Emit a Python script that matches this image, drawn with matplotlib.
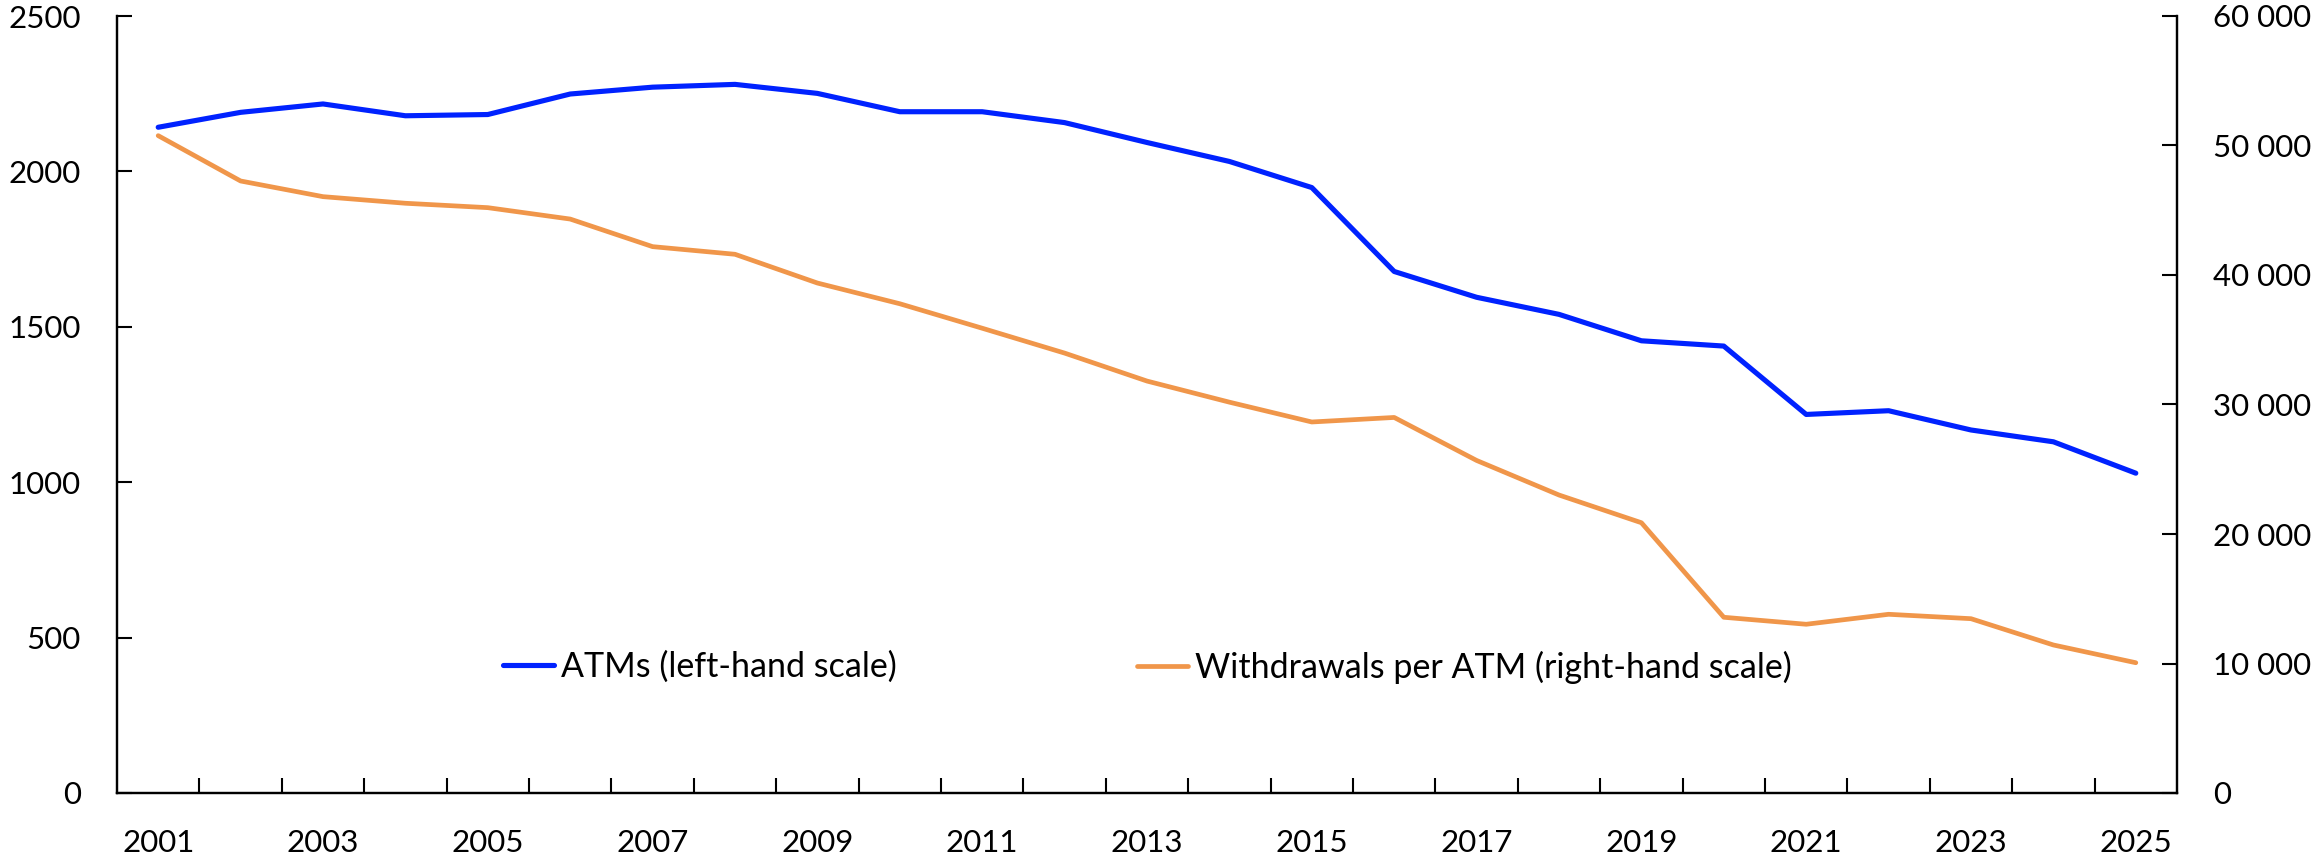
import matplotlib
matplotlib.use("Agg")
import matplotlib.pyplot as plt
from matplotlib.ticker import FuncFormatter, FixedLocator

plt.rcParams['font.family'] = ['Lato', 'DejaVu Sans']

years = list(range(2001, 2026))
atms = [2142, 2190, 2217, 2179, 2183, 2249, 2271, 2280, 2251, 2192, 2192, 2157,
        2093, 2032, 1948, 1678, 1595, 1540, 1455, 1438, 1218, 1230, 1168, 1130, 1029]
withdrawals = [50760, 47260, 46050, 45540, 45200, 44320, 42190, 41600, 39380, 37780,
               35890, 33970, 31810, 30180, 28650, 29000, 25680, 23010, 20870, 13570,
               13030, 13800, 13460, 11430, 10060]
label_atms = "ATMs (left-hand scale)"
label_wd = "Withdrawals per ATM (right-hand scale)"

blue = '#0022FF'
orange = '#F0964A'
fs = 22.5
fs_leg = 24.5

fig = plt.figure(figsize=(23.19, 8.65), dpi=100)
ax = fig.add_axes([117/2319, 72/865, 2060/2319, 777/865])
ax2 = ax.twinx()

x = list(range(len(years)))
l1, = ax.plot(x, atms, color=blue, lw=3.7, solid_capstyle='round', solid_joinstyle='round')
l2, = ax2.plot(x, withdrawals, color=orange, lw=3.4, solid_capstyle='round', solid_joinstyle='round')

ax.set_xlim(-0.5, len(years) - 0.5)
ax.set_ylim(0, 2500)
ax2.set_ylim(0, 60000)
ax.set_yticks(range(0, 2501, 500))
ax2.set_yticks(range(0, 60001, 10000))
ax2.yaxis.set_major_formatter(FuncFormatter(lambda v, p: f"{int(v):,}".replace(",", " ")))

# category boundaries as major ticks, labels as minor ticks at centres
ax.xaxis.set_major_locator(FixedLocator([k + 0.5 for k in range(len(years) - 1)]))
ax.xaxis.set_major_formatter(FuncFormatter(lambda v, p: ""))
ax.xaxis.set_minor_locator(FixedLocator(x[::2]))
ax.set_xticklabels([str(y) for y in years[::2]], minor=True)

for a in (ax, ax2):
    a.spines['top'].set_visible(False)
    for s in a.spines.values():
        s.set_linewidth(1.6)
ax.tick_params(axis='x', which='major', direction='in', length=11, width=1.5)
ax.tick_params(axis='x', which='minor', length=0, pad=26, labelsize=fs)
ax.tick_params(axis='y', direction='in', length=11, width=1.5, pad=26, labelsize=fs)
ax2.tick_params(axis='y', direction='in', length=11, width=1.5, pad=26, labelsize=fs)

legkw = dict(frameon=False, fontsize=fs_leg, handlelength=1.5, handletextpad=0.2,
             borderpad=0, borderaxespad=0, loc='center left')
lg1 = fig.legend([l1], [label_atms], bbox_to_anchor=(503/2319, 1 - 667/865), **legkw)
lg2 = fig.legend([l2], [label_wd], bbox_to_anchor=(1137/2319, 1 - 667/865), **legkw)

fig.savefig("out.png", dpi=100)
